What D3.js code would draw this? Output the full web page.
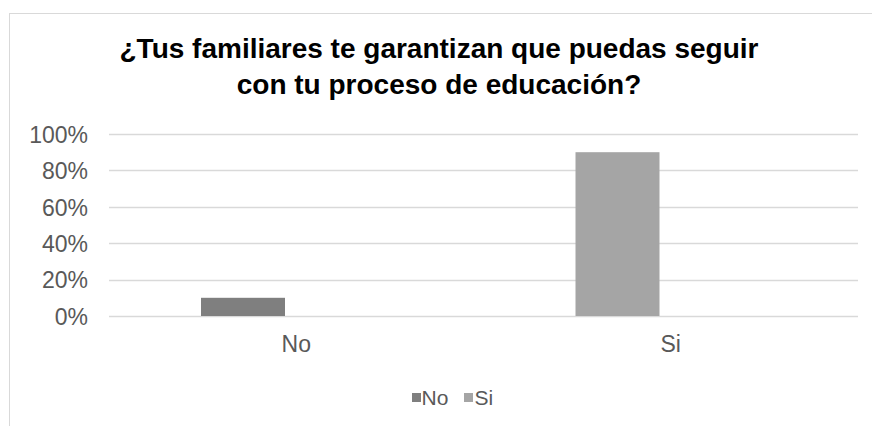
<!DOCTYPE html>
<html>
<head>
<meta charset="utf-8">
<script src="https://cdn.jsdelivr.net/npm/d3@7"></script>
<style>
  html, body { margin: 0; padding: 0; background: #ffffff; }
  svg { display: block; font-family: "Liberation Sans", Arial, sans-serif; }
</style>
</head>
<body>
<svg id="chart" width="872" height="426"></svg>
<script>
// ---- data ----
const titleLines = ["¿Tus familiares te garantizan que puedas seguir", "con tu proceso de educación?"];
const categories = ["No", "Si"];
const values = [0.10, 0.90];
const seriesNames = ["No", "Si"];
const seriesColors = ["#7f7f7f", "#a5a5a5"];
const tickValues = [0, 0.2, 0.4, 0.6, 0.8, 1.0];
const tickLabels = ["0%", "20%", "40%", "60%", "80%", "100%"];

// ---- layout ----
const W = 872, H = 426;
const plot = { left: 109, right: 858, top: 134, bottom: 316 };
const svg = d3.select("#chart");

// chart border
svg.append("rect")
  .attr("x", 9.5).attr("y", 13.5)
  .attr("width", 880).attr("height", 440)
  .attr("fill", "#ffffff").attr("stroke", "#d9d9d9").attr("stroke-width", 1);

// title
const title = svg.append("text")
  .attr("text-anchor", "middle")
  .attr("font-weight", "bold")
  .attr("font-size", 28)
  .attr("fill", "#000000");
titleLines.forEach((t, i) => {
  title.append("tspan").attr("x", 439).attr("y", 58 + i * 36).text(t);
});

// scales
const x0 = d3.scaleBand().domain(categories).range([plot.left, plot.right]).padding(0);
const y = d3.scaleLinear().domain([0, 1]).range([plot.bottom, plot.top]);
const color = d3.scaleOrdinal().domain(seriesNames).range(seriesColors);

// gridlines
svg.append("g").selectAll("line").data(tickValues).join("line")
  .attr("x1", plot.left).attr("x2", plot.right)
  .attr("y1", d => Math.round(y(d)) + 0.5).attr("y2", d => Math.round(y(d)) + 0.5)
  .attr("stroke", "#d9d9d9").attr("stroke-width", 1.5);

// y axis labels
const yAxis = d3.axisLeft(y).tickValues(tickValues)
  .tickFormat((d, i) => tickLabels[i]).tickSize(0).tickPadding(0);
const yg = svg.append("g").attr("transform", `translate(88,0)`).call(yAxis);
yg.select(".domain").remove();
yg.selectAll("text").attr("font-size", 23).attr("fill", "#595959")
  .attr("font-family", "'Liberation Sans', Arial, sans-serif").attr("dy", "0.36em");

// bars
const barOffset = 92 / 374.5, barFrac = 84 / 374.5;
const data = categories.map((c, i) => ({ cat: c, value: values[i], series: seriesNames[i] }));
svg.append("g").selectAll("rect").data(data).join("rect")
  .attr("x", d => x0(d.cat) + x0.bandwidth() * barOffset)
  .attr("width", x0.bandwidth() * barFrac)
  .attr("y", d => y(d.value))
  .attr("height", d => y(0) - y(d.value))
  .attr("fill", d => color(d.series));

// x axis labels
const xAxis = d3.axisBottom(x0).tickSize(0).tickPadding(0);
const xg = svg.append("g").attr("transform", `translate(0,${plot.bottom})`).call(xAxis);
xg.select(".domain").remove();
xg.selectAll("text").attr("font-size", 23).attr("fill", "#595959")
  .attr("font-family", "'Liberation Sans', Arial, sans-serif").attr("dy", "36px");

// legend
const legend = svg.append("g");
const legendItems = [{ name: seriesNames[0], sx: 412, tx: 421.5 }, { name: seriesNames[1], sx: 464, tx: 474.5 }];
legendItems.forEach(it => {
  legend.append("rect").attr("x", it.sx).attr("y", 393).attr("width", 9).attr("height", 9)
    .attr("fill", color(it.name));
  legend.append("text").attr("x", it.tx).attr("y", 405).attr("font-size", 21)
    .attr("fill", "#595959").text(it.name);
});
</script>
</body>
</html>
